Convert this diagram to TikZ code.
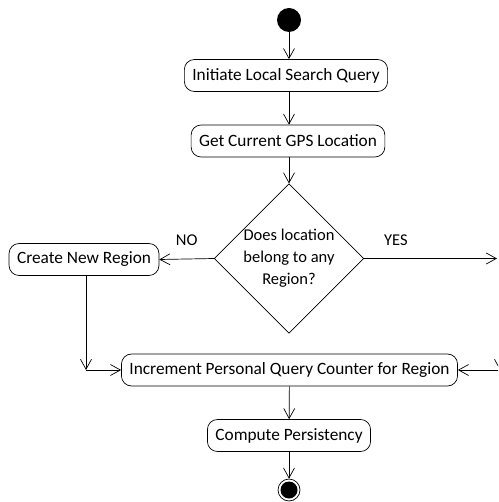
\documentclass[tikz,border=0pt]{standalone}
\usepackage{fontspec}
\setmainfont{Carlito}
\usetikzlibrary{arrows.meta,shapes.geometric}

\begin{document}
\begin{tikzpicture}[x=1pt, y=-1pt,
		every node/.append style={font=\fontsize{16.5}{22}\selectfont},
		activity/.style={draw, rectangle, rounded corners=10pt, minimum height=32pt, inner xsep=8pt, inner ysep=2pt, font=\fontsize{17.3}{22}\selectfont},
		decision/.style={draw, diamond, align=center, inner sep=0pt},
		flow/.style={line width=0.7pt, -{Straight Barb[length=10pt,width=11pt,line width=0.7pt]}},
		line width=0.7pt]

		%%% FRAME - same size as the reference
		\clip (0,0) rectangle (498,502);

		%% Start
		\node[circle, fill=black, minimum size=24pt, inner sep=0pt] (start) at (289,20) {};

		% INITIATE
		\node[activity] (init) at (286,75.5) {Initiate Local Search Query};

		% GPS
		\node[activity] (gps) at (288,141) {Get Current GPS Location};

		% DECISION
		\node[decision] (region) at (289,258.5) {Does location\\belong to any\\Region?};

		% NEW REGION
		\node[activity] (newregion) at (84,259.5) {Create New Region};

		% INCREMENT
		\node[activity] (counter) at (289.5,370) {Increment Personal Query Counter for Region};

		% PERSISTENCY
		\node[activity] (persist) at (289,435.5) {Compute Persistency};

		%% End
		\node[circle, draw, minimum size=22pt, inner sep=0pt] (stop) at (289,490) {};
		\node[circle, fill=black, minimum size=17pt, inner sep=0pt] (stopdot) at (stop) {};

		% loose ends
		\coordinate (yesend) at (497,258.5);
		\coordinate (joinleft) at (86,370);
		\coordinate (offright) at (500,300);
		\coordinate (joinright) at (500,370);

		% ARROWS
		\draw[flow] (start) -- (start |- init.north);
		\draw[flow] (init.south -| start) -- (gps.north -| start);
		\draw[flow] (gps.south -| start) -- (region);
		\draw[flow] (region.west) -- node[above=10pt] {NO} (newregion.east);
		\draw[flow] (region.east) -- node[pos=0.24, above=9pt] {YES} (yesend);
		\draw[flow] (newregion.south -| joinleft) -- (joinleft);
		\draw[flow] (joinleft) -- (counter.west);
		\draw[flow] (offright) -- (joinright);
		\draw[flow] (joinright) -- (counter.east);
		\draw[flow] (counter) -- (persist);
		\draw[flow] (persist) -- (stop);
	\end{tikzpicture}
\end{document}
